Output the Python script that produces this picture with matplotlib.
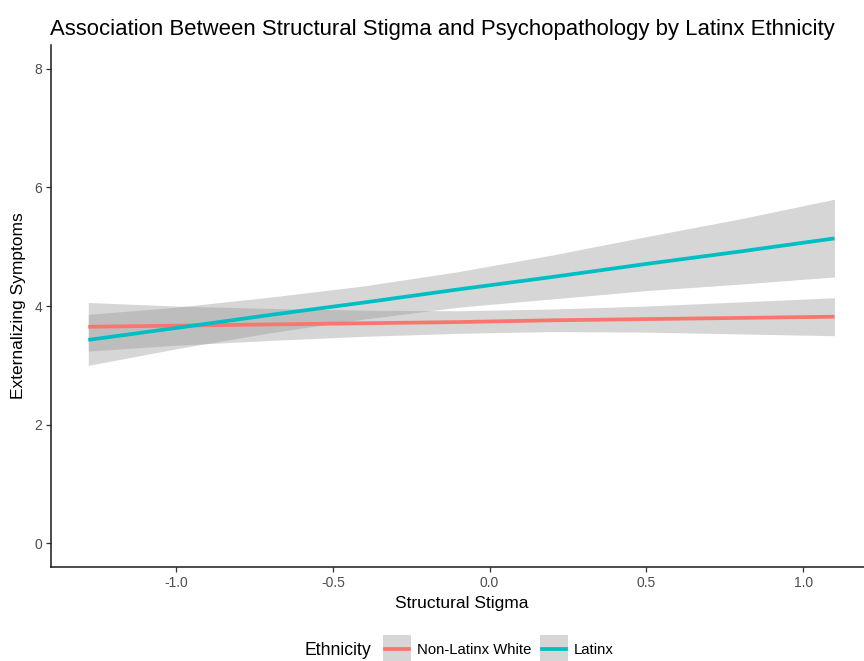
import numpy as np
import matplotlib
matplotlib.use("Agg")
import matplotlib.pyplot as plt
from matplotlib.lines import Line2D
from matplotlib.legend_handler import HandlerTuple

plt.rcParams["font.family"] = ["Liberation Sans", "DejaVu Sans"]

# values
stigma = [-1.28, -1.0, -0.7, -0.4, -0.1, 0.2, 0.5, 0.8, 1.1]

white_fit = [3.65, 3.67, 3.69, 3.71, 3.73, 3.76, 3.78, 3.80, 3.82]
white_lo = [3.24, 3.34, 3.42, 3.49, 3.54, 3.57, 3.56, 3.53, 3.50]
white_hi = [4.06, 4.00, 3.96, 3.93, 3.92, 3.95, 4.00, 4.07, 4.14]

latinx_fit = [3.43, 3.63, 3.85, 4.06, 4.28, 4.49, 4.71, 4.92, 5.14]
latinx_lo = [3.00, 3.28, 3.55, 3.78, 3.98, 4.12, 4.26, 4.37, 4.49]
latinx_hi = [3.86, 3.98, 4.15, 4.34, 4.58, 4.86, 5.17, 5.47, 5.80]

groups = ["Non-Latinx White", "Latinx"]
colors = ["#F8766D", "#00BFC4"]
x_ticks = [-1.0, -0.5, 0.0, 0.5, 1.0]
y_ticks = [0, 2, 4, 6, 8]

fig = plt.figure(figsize=(8.64, 6.61), dpi=100)
ax = fig.add_axes([0.059, 0.142, 0.95, 0.79])

band_kw = dict(color="#999999", alpha=0.4, linewidth=0)
ax.fill_between(stigma, white_lo, white_hi, **band_kw)
ax.fill_between(stigma, latinx_lo, latinx_hi, **band_kw)
ax.plot(stigma, white_fit, color=colors[0], lw=2.7, solid_capstyle="butt")
ax.plot(stigma, latinx_fit, color=colors[1], lw=2.7, solid_capstyle="butt")

ax.set_xlim(-1.399, 1.219)
ax.set_ylim(-0.4, 8.4)
ax.set_xticks(x_ticks)
ax.set_xticklabels([f"{v:.1f}" for v in x_ticks])
ax.set_yticks(y_ticks)
ax.tick_params(labelsize=10, labelcolor="#4D4D4D", color="#333333",
               length=3.5, width=0.9, pad=3)
for side in ["top", "right"]:
    ax.spines[side].set_visible(False)
for side in ["left", "bottom"]:
    ax.spines[side].set_linewidth(1.1)
    ax.spines[side].set_color("#1a1a1a")

ax.set_xlabel("Structural Stigma", fontsize=12.5, labelpad=4)
ax.set_ylabel("Externalizing Symptoms", fontsize=12.5, labelpad=6)
fig.text(0.058, 0.956, "Association Between Structural Stigma and Psychopathology by Latinx Ethnicity",
         fontsize=15.9, ha="left", va="center")

# legend at the bottom, title on the left like ggplot
handles = [(Line2D([], [], ls="none", marker="s", markersize=20.5, markeredgewidth=0,
                   color="#D6D6D6"),
            Line2D([], [], color=c, lw=2.7)) for c in colors]
fig.text(0.353, 0.016, "Ethnicity", fontsize=12.7, ha="left", va="center")
fig.legend(handles, groups, loc="center left", bbox_to_anchor=(0.439, 0.016),
           ncol=2, frameon=False, fontsize=10.7, handlelength=1.6, numpoints=1,
           handletextpad=0.55, columnspacing=0.7, borderaxespad=0,
           handler_map={tuple: HandlerTuple(ndivide=1, pad=0)})

fig.savefig("out.png", dpi=100)
